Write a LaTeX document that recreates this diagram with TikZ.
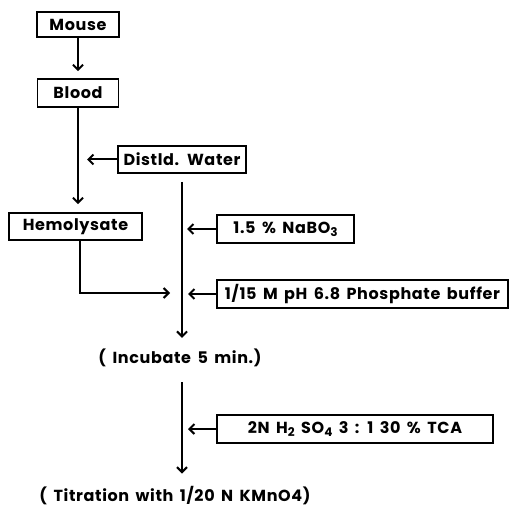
\documentclass[tikz,border=0pt]{standalone}
\usepackage{fontspec}
\setmainfont[LetterSpace=4,WordSpace=1.6]{Poppins}
\usetikzlibrary{arrows.meta,positioning}
\newcommand{\low}[1]{\raisebox{-0.35ex}{\fontsize{12}{12}\selectfont #1}}
\tikzset{
  stepbox/.style={draw,line width=1.8pt,inner sep=1pt,font=\fontsize{16}{18}\selectfont\bfseries},
  steptext/.style={inner sep=1pt,font=\fontsize{16}{18}\selectfont\bfseries},
  flow/.style={line width=2pt,-{Straight Barb[length=5pt,width=10pt]}},
}
\begin{document}
\begin{tikzpicture}[x=1pt,y=-1pt]
  \useasboundingbox (0,0) rectangle (510,510);

  % left column: sample
  \node[stepbox,minimum width=82pt,minimum height=25pt] (mouse) at (78,24.5) {Mouse};
  \node[stepbox,minimum width=81pt,minimum height=28pt] (blood) at (78,93) {Blood};
  \node[stepbox,minimum width=133pt,minimum height=27pt] (hemo) at (75.5,226.5) {Hemolysate};

  % reagents
  \node[stepbox,minimum width=128pt,minimum height=27pt] (water) at (182,159.5) {Distld. Water};
  \node[stepbox,minimum width=137pt,minimum height=28pt] (nabo) at (285.5,229) {1.5 \% NaBO\low{3}};
  \node[stepbox,minimum width=291pt,minimum height=28pt] (phos) at (362.5,294) {1/15 M pH 6.8 Phosphate buffer};
  \node[stepbox,minimum width=276pt,minimum height=28pt] (acid) at (355,429) {2N H\low{2} SO\low{4} 3 : 1 30 \% TCA};

  % steps
  \node[steptext] (incub) at (180,358) {( Incubate 5 min.)};
  \node[steptext] (titr) at (175,496) {( Titration with 1/20 N KMnO4)};

  % main line corners
  \coordinate (top) at (182,182);
  \coordinate (top2) at (182,382);
  \coordinate (bend) at (80,293);

  \draw[flow,shorten >=7pt] (mouse.south) -- (blood.north);
  \draw[flow,shorten >=8pt] (blood.south) -- (blood.south |- hemo.north);
  \draw[flow,shorten >=9pt] (water.west) -- (water.west -| blood.south);
  \draw[flow,shorten >=10pt] (top) -- (top |- incub.north);
  \draw[flow,shorten >=5pt] (nabo.west) -- (nabo.west -| top);
  \draw[flow,shorten >=6pt] (phos.west) -- (phos.west -| top);
  \draw[flow,shorten >=12pt] (hemo.south -| bend) -- (bend) -- (bend -| top);
  \draw[flow,shorten >=12pt] (top2) -- (top2 |- titr.north);
  \draw[flow,shorten >=6pt] (acid.west) -- (acid.west -| top2);
\end{tikzpicture}
\end{document}
